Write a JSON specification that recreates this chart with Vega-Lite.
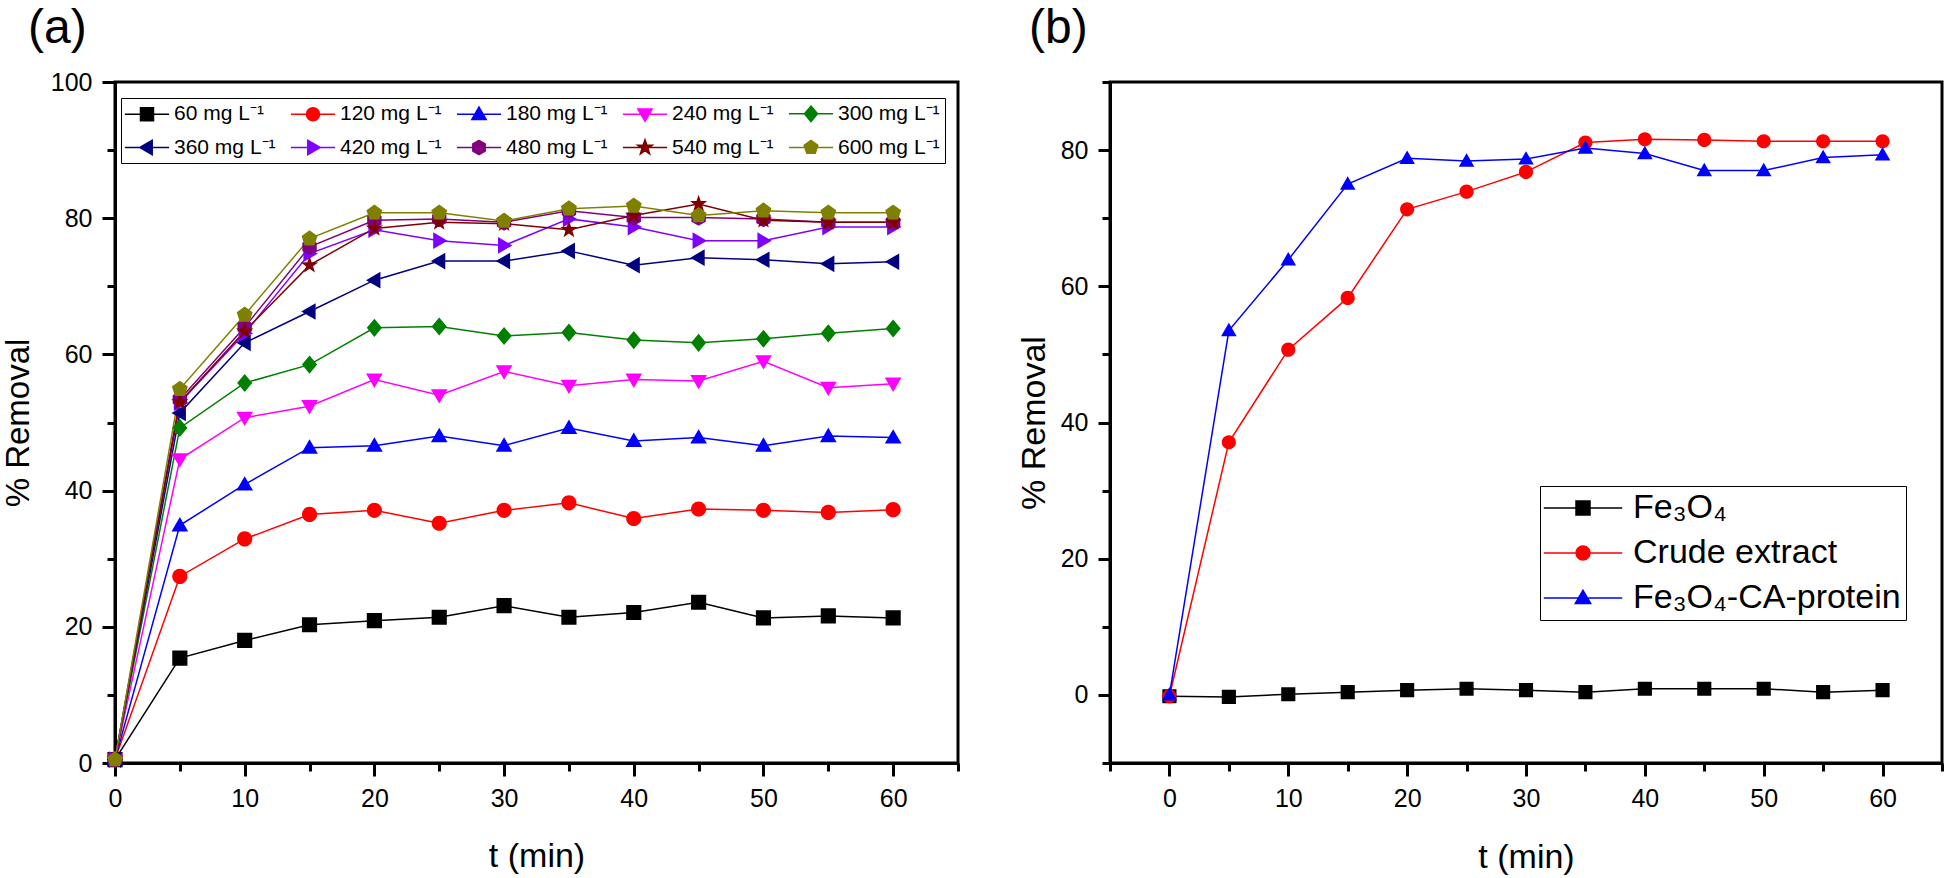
{
  "$schema": "https://vega.github.io/schema/vega-lite/v6.json",
  "padding": {"left": 0, "top": 3, "right": 0, "bottom": 0},
  "spacing": 54,
  "background": "white",
  "resolve": {"scale": {"color": "independent", "shape": "independent"}, "legend": {"color": "independent", "shape": "independent"}},
  "config": {
    "font": "Liberation Sans",
    "view": {"stroke": "black", "strokeWidth": 3},
    "axis": {"domainColor": "black", "domainWidth": 3, "tickColor": "black", "tickWidth": 3, "labelColor": "black", "titleColor": "black", "labelFont": "Liberation Sans", "titleFont": "Liberation Sans", "labelFontSize": 25, "titleFontSize": 34, "titleFontWeight": "normal", "grid": false, "labelPadding": 10, "labelFlush": false, "labelOverlap": false},
    "title": {"font": "Liberation Sans", "fontSize": 48, "fontWeight": "normal", "anchor": "start", "color": "black", "frame": "group", "baseline": "alphabetic"},
    "legend": {"labelFont": "Liberation Sans", "labelColor": "black"}
  },
  "datasets": {
    "a": [
      {"t":0,"c":"60 mg L⁻¹","v":0.5},{"t":5,"c":"60 mg L⁻¹","v":15.4},{"t":10,"c":"60 mg L⁻¹","v":18.0},{"t":15,"c":"60 mg L⁻¹","v":20.3},{"t":20,"c":"60 mg L⁻¹","v":20.9},{"t":25,"c":"60 mg L⁻¹","v":21.4},{"t":30,"c":"60 mg L⁻¹","v":23.1},{"t":35,"c":"60 mg L⁻¹","v":21.4},{"t":40,"c":"60 mg L⁻¹","v":22.1},{"t":45,"c":"60 mg L⁻¹","v":23.6},{"t":50,"c":"60 mg L⁻¹","v":21.3},{"t":55,"c":"60 mg L⁻¹","v":21.6},{"t":60,"c":"60 mg L⁻¹","v":21.3},
      {"t":0,"c":"120 mg L⁻¹","v":0.5},{"t":5,"c":"120 mg L⁻¹","v":27.4},{"t":10,"c":"120 mg L⁻¹","v":32.9},{"t":15,"c":"120 mg L⁻¹","v":36.5},{"t":20,"c":"120 mg L⁻¹","v":37.1},{"t":25,"c":"120 mg L⁻¹","v":35.2},{"t":30,"c":"120 mg L⁻¹","v":37.1},{"t":35,"c":"120 mg L⁻¹","v":38.2},{"t":40,"c":"120 mg L⁻¹","v":35.9},{"t":45,"c":"120 mg L⁻¹","v":37.3},{"t":50,"c":"120 mg L⁻¹","v":37.1},{"t":55,"c":"120 mg L⁻¹","v":36.8},{"t":60,"c":"120 mg L⁻¹","v":37.2},
      {"t":0,"c":"180 mg L⁻¹","v":0.5},{"t":5,"c":"180 mg L⁻¹","v":34.9},{"t":10,"c":"180 mg L⁻¹","v":40.9},{"t":15,"c":"180 mg L⁻¹","v":46.3},{"t":20,"c":"180 mg L⁻¹","v":46.6},{"t":25,"c":"180 mg L⁻¹","v":48.0},{"t":30,"c":"180 mg L⁻¹","v":46.6},{"t":35,"c":"180 mg L⁻¹","v":49.2},{"t":40,"c":"180 mg L⁻¹","v":47.3},{"t":45,"c":"180 mg L⁻¹","v":47.8},{"t":50,"c":"180 mg L⁻¹","v":46.6},{"t":55,"c":"180 mg L⁻¹","v":48.0},{"t":60,"c":"180 mg L⁻¹","v":47.8},
      {"t":0,"c":"240 mg L⁻¹","v":0.5},{"t":5,"c":"240 mg L⁻¹","v":44.6},{"t":10,"c":"240 mg L⁻¹","v":50.7},{"t":15,"c":"240 mg L⁻¹","v":52.4},{"t":20,"c":"240 mg L⁻¹","v":56.3},{"t":25,"c":"240 mg L⁻¹","v":54.0},{"t":30,"c":"240 mg L⁻¹","v":57.5},{"t":35,"c":"240 mg L⁻¹","v":55.4},{"t":40,"c":"240 mg L⁻¹","v":56.3},{"t":45,"c":"240 mg L⁻¹","v":56.1},{"t":50,"c":"240 mg L⁻¹","v":59.0},{"t":55,"c":"240 mg L⁻¹","v":55.1},{"t":60,"c":"240 mg L⁻¹","v":55.7},
      {"t":0,"c":"300 mg L⁻¹","v":0.5},{"t":5,"c":"300 mg L⁻¹","v":49.2},{"t":10,"c":"300 mg L⁻¹","v":55.8},{"t":15,"c":"300 mg L⁻¹","v":58.5},{"t":20,"c":"300 mg L⁻¹","v":63.9},{"t":25,"c":"300 mg L⁻¹","v":64.1},{"t":30,"c":"300 mg L⁻¹","v":62.7},{"t":35,"c":"300 mg L⁻¹","v":63.2},{"t":40,"c":"300 mg L⁻¹","v":62.1},{"t":45,"c":"300 mg L⁻¹","v":61.7},{"t":50,"c":"300 mg L⁻¹","v":62.3},{"t":55,"c":"300 mg L⁻¹","v":63.1},{"t":60,"c":"300 mg L⁻¹","v":63.8},
      {"t":0,"c":"360 mg L⁻¹","v":0.5},{"t":5,"c":"360 mg L⁻¹","v":51.4},{"t":10,"c":"360 mg L⁻¹","v":61.7},{"t":15,"c":"360 mg L⁻¹","v":66.3},{"t":20,"c":"360 mg L⁻¹","v":70.9},{"t":25,"c":"360 mg L⁻¹","v":73.7},{"t":30,"c":"360 mg L⁻¹","v":73.7},{"t":35,"c":"360 mg L⁻¹","v":75.2},{"t":40,"c":"360 mg L⁻¹","v":73.1},{"t":45,"c":"360 mg L⁻¹","v":74.2},{"t":50,"c":"360 mg L⁻¹","v":73.9},{"t":55,"c":"360 mg L⁻¹","v":73.3},{"t":60,"c":"360 mg L⁻¹","v":73.6},
      {"t":0,"c":"420 mg L⁻¹","v":0.5},{"t":5,"c":"420 mg L⁻¹","v":52.9},{"t":10,"c":"420 mg L⁻¹","v":63.1},{"t":15,"c":"420 mg L⁻¹","v":74.8},{"t":20,"c":"420 mg L⁻¹","v":78.3},{"t":25,"c":"420 mg L⁻¹","v":76.7},{"t":30,"c":"420 mg L⁻¹","v":76.0},{"t":35,"c":"420 mg L⁻¹","v":79.9},{"t":40,"c":"420 mg L⁻¹","v":78.7},{"t":45,"c":"420 mg L⁻¹","v":76.7},{"t":50,"c":"420 mg L⁻¹","v":76.7},{"t":55,"c":"420 mg L⁻¹","v":78.7},{"t":60,"c":"420 mg L⁻¹","v":78.7},
      {"t":0,"c":"480 mg L⁻¹","v":0.5},{"t":5,"c":"480 mg L⁻¹","v":53.4},{"t":10,"c":"480 mg L⁻¹","v":64.0},{"t":15,"c":"480 mg L⁻¹","v":75.8},{"t":20,"c":"480 mg L⁻¹","v":79.7},{"t":25,"c":"480 mg L⁻¹","v":79.9},{"t":30,"c":"480 mg L⁻¹","v":79.4},{"t":35,"c":"480 mg L⁻¹","v":81.1},{"t":40,"c":"480 mg L⁻¹","v":80.1},{"t":45,"c":"480 mg L⁻¹","v":80.1},{"t":50,"c":"480 mg L⁻¹","v":79.9},{"t":55,"c":"480 mg L⁻¹","v":79.4},{"t":60,"c":"480 mg L⁻¹","v":79.4},
      {"t":0,"c":"540 mg L⁻¹","v":0.5},{"t":5,"c":"540 mg L⁻¹","v":53.0},{"t":10,"c":"540 mg L⁻¹","v":63.4},{"t":15,"c":"540 mg L⁻¹","v":73.1},{"t":20,"c":"540 mg L⁻¹","v":78.5},{"t":25,"c":"540 mg L⁻¹","v":79.4},{"t":30,"c":"540 mg L⁻¹","v":79.2},{"t":35,"c":"540 mg L⁻¹","v":78.3},{"t":40,"c":"540 mg L⁻¹","v":80.4},{"t":45,"c":"540 mg L⁻¹","v":82.1},{"t":50,"c":"540 mg L⁻¹","v":79.7},{"t":55,"c":"540 mg L⁻¹","v":79.4},{"t":60,"c":"540 mg L⁻¹","v":79.4},
      {"t":0,"c":"600 mg L⁻¹","v":0.5},{"t":5,"c":"600 mg L⁻¹","v":54.9},{"t":10,"c":"600 mg L⁻¹","v":65.8},{"t":15,"c":"600 mg L⁻¹","v":77.0},{"t":20,"c":"600 mg L⁻¹","v":80.8},{"t":25,"c":"600 mg L⁻¹","v":80.8},{"t":30,"c":"600 mg L⁻¹","v":79.6},{"t":35,"c":"600 mg L⁻¹","v":81.4},{"t":40,"c":"600 mg L⁻¹","v":81.8},{"t":45,"c":"600 mg L⁻¹","v":80.4},{"t":50,"c":"600 mg L⁻¹","v":81.1},{"t":55,"c":"600 mg L⁻¹","v":80.8},{"t":60,"c":"600 mg L⁻¹","v":80.8}
    ],
    "b": [
      {"t":0,"c":"Fe₃O₄","v":-0.2},{"t":5,"c":"Fe₃O₄","v":-0.3},{"t":10,"c":"Fe₃O₄","v":0.1},{"t":15,"c":"Fe₃O₄","v":0.4},{"t":20,"c":"Fe₃O₄","v":0.7},{"t":25,"c":"Fe₃O₄","v":0.9},{"t":30,"c":"Fe₃O₄","v":0.7},{"t":35,"c":"Fe₃O₄","v":0.4},{"t":40,"c":"Fe₃O₄","v":0.9},{"t":45,"c":"Fe₃O₄","v":0.9},{"t":50,"c":"Fe₃O₄","v":0.9},{"t":55,"c":"Fe₃O₄","v":0.4},{"t":60,"c":"Fe₃O₄","v":0.7},
      {"t":0,"c":"Crude extract","v":-0.2},{"t":5,"c":"Crude extract","v":37.1},{"t":10,"c":"Crude extract","v":50.7},{"t":15,"c":"Crude extract","v":58.3},{"t":20,"c":"Crude extract","v":71.3},{"t":25,"c":"Crude extract","v":73.9},{"t":30,"c":"Crude extract","v":76.8},{"t":35,"c":"Crude extract","v":81.1},{"t":40,"c":"Crude extract","v":81.6},{"t":45,"c":"Crude extract","v":81.5},{"t":50,"c":"Crude extract","v":81.3},{"t":55,"c":"Crude extract","v":81.3},{"t":60,"c":"Crude extract","v":81.3},
      {"t":0,"c":"Fe₃O₄-CA-protein","v":0},{"t":5,"c":"Fe₃O₄-CA-protein","v":53.5},{"t":10,"c":"Fe₃O₄-CA-protein","v":63.9},{"t":15,"c":"Fe₃O₄-CA-protein","v":75.0},{"t":20,"c":"Fe₃O₄-CA-protein","v":78.8},{"t":25,"c":"Fe₃O₄-CA-protein","v":78.4},{"t":30,"c":"Fe₃O₄-CA-protein","v":78.7},{"t":35,"c":"Fe₃O₄-CA-protein","v":80.3},{"t":40,"c":"Fe₃O₄-CA-protein","v":79.5},{"t":45,"c":"Fe₃O₄-CA-protein","v":77.0},{"t":50,"c":"Fe₃O₄-CA-protein","v":77.0},{"t":55,"c":"Fe₃O₄-CA-protein","v":78.9},{"t":60,"c":"Fe₃O₄-CA-protein","v":79.3}
    ]
  },
  "hconcat": [
    {
      "width": 843,
      "height": 681,
      "title": {"text": "(a)", "dx": -87, "offset": 17},
      "data": {"name": "a"},
      "encoding": {
        "x": {"field": "t", "type": "quantitative", "scale": {"domain": [0, 65], "nice": false, "zero": false},
          "axis": {"values": [0,5,10,15,20,25,30,35,40,45,50,55,60,65], "labelExpr": "datum.value % 10 === 0 ? datum.label : ''",
            "tickSize": {"condition": {"test": "datum.value % 10 !== 0", "value": 8}, "value": 13},
            "title": "t (min)", "titleX": 421.5, "titleY": 103, "titleBaseline": "alphabetic"}},
        "y": {"field": "v", "type": "quantitative", "scale": {"domain": [0, 100], "nice": false, "zero": false},
          "axis": {"values": [0,10,20,30,40,50,60,70,80,90,100], "labelExpr": "datum.value % 20 === 0 ? datum.label : ''",
            "tickSize": {"condition": {"test": "datum.value % 20 !== 0", "value": 8}, "value": 13},
            "title": "% Removal", "titleX": -87, "titleY": 340.5, "titleBaseline": "alphabetic", "titleFontSize": 33}},
        "color": {"field": "c", "type": "nominal",
          "scale": {"domain": ["60 mg L⁻¹","120 mg L⁻¹","180 mg L⁻¹","240 mg L⁻¹","300 mg L⁻¹","360 mg L⁻¹","420 mg L⁻¹","480 mg L⁻¹","540 mg L⁻¹","600 mg L⁻¹"],
            "range": ["#000000","#FF0000","#0000FF","#FF00FF","#008000","#000080","#8000FF","#800080","#800000","#808000"]},
          "legend": {"orient": "none", "legendX": 6, "legendY": 16, "title": null, "columns": 5, "direction": "horizontal",
            "strokeColor": "black", "fillColor": "white", "padding": 5,
            "labelFontSize": 21, "labelLimit": 0, "symbolSize": 169, "symbolOffset": 10.5, "labelOffset": 16.5,
            "columnPadding": 11, "rowPadding": 11, "symbolStrokeWidth": 1.5}}
      },
      "layer": [
        {"mark": {"type": "line", "strokeWidth": 1.5}},
        {"mark": {"type": "point", "filled": true, "size": 230, "opacity": 1, "strokeWidth": 0},
          "encoding": {"shape": {"field": "c", "type": "nominal", "legend": null,
            "scale": {"domain": ["60 mg L⁻¹","120 mg L⁻¹","180 mg L⁻¹","240 mg L⁻¹","300 mg L⁻¹","360 mg L⁻¹","420 mg L⁻¹","480 mg L⁻¹","540 mg L⁻¹","600 mg L⁻¹"],
              "range": ["M-3.4,0H3.4M-1,-1H1V1H-1Z","M-3.4,0H3.4M1,0A1,1,0,1,1,-1,0A1,1,0,1,1,1,0Z","M-3.4,0H3.4M0,-1.1L1.1,0.8L-1.1,0.8Z","M-3.4,0H3.4M0,1.1L1.1,-0.8L-1.1,-0.8Z","M-3.4,0H3.4M0,-1.2L1,0L0,1.2L-1,0Z","M-3.4,0H3.4M-1.1,0L0.8,-1.1L0.8,1.1Z","M-3.4,0H3.4M1.1,0L-0.8,-1.1L-0.8,1.1Z","M-3.4,0H3.4M0,-1.1L0.95,-0.55L0.95,0.55L0,1.1L-0.95,0.55L-0.95,-0.55Z","M-3.4,0H3.4M0,-1.2L0.28,-0.39L1.14,-0.37L0.46,0.15L0.71,0.97L0,0.48L-0.71,0.97L-0.46,0.15L-1.14,-0.37L-0.28,-0.39Z","M-3.4,0H3.4M0,-1.1L1.05,-0.34L0.65,0.89L-0.65,0.89L-1.05,-0.34Z"]}}}}
      ]
    },
    {
      "width": 832,
      "height": 681,
      "title": {"text": "(b)", "dx": -81, "offset": 17},
      "data": {"name": "b"},
      "encoding": {
        "x": {"field": "t", "type": "quantitative", "scale": {"domain": [-5, 65], "nice": false, "zero": false},
          "axis": {"values": [-5,0,5,10,15,20,25,30,35,40,45,50,55,60,65], "labelExpr": "datum.value % 10 === 0 ? datum.label : ''",
            "tickSize": {"condition": {"test": "datum.value % 10 !== 0", "value": 8}, "value": 13},
            "title": "t (min)", "titleX": 416, "titleY": 104, "titleBaseline": "alphabetic"}},
        "y": {"field": "v", "type": "quantitative", "scale": {"domain": [-10, 90], "nice": false, "zero": false},
          "axis": {"values": [-10,0,10,20,30,40,50,60,70,80,90], "labelExpr": "datum.value % 20 === 0 ? datum.label : ''",
            "tickSize": {"condition": {"test": "datum.value % 20 !== 0", "value": 8}, "value": 12},
            "title": "% Removal", "titleX": -66, "titleY": 340.5, "titleBaseline": "alphabetic"}},
        "color": {"field": "c", "type": "nominal",
          "scale": {"domain": ["Fe₃O₄","Crude extract","Fe₃O₄-CA-protein"], "range": ["#000000","#FF0000","#0000FF"]},
          "legend": {"orient": "none", "legendX": 430, "legendY": 404, "title": null, "columns": 1,
            "strokeColor": "black", "fillColor": "white", "padding": 5,
            "labelFontSize": 34, "labelLimit": 0, "symbolSize": 196, "symbolOffset": 21, "labelOffset": 33,
            "rowPadding": 11, "symbolStrokeWidth": 1.5}}
      },
      "layer": [
        {"mark": {"type": "line", "strokeWidth": 1.5}},
        {"mark": {"type": "point", "filled": true, "size": 200, "opacity": 1, "strokeWidth": 0},
          "encoding": {"shape": {"field": "c", "type": "nominal", "legend": null,
            "scale": {"domain": ["Fe₃O₄","Crude extract","Fe₃O₄-CA-protein"],
              "range": ["M-5.6,0H5.6M-1,-1H1V1H-1Z","M-5.6,0H5.6M1,0A1,1,0,1,1,-1,0A1,1,0,1,1,1,0Z","M-5.6,0H5.6M0,-1.1L1.1,0.8L-1.1,0.8Z"]}}}}
      ]
    }
  ]
}
